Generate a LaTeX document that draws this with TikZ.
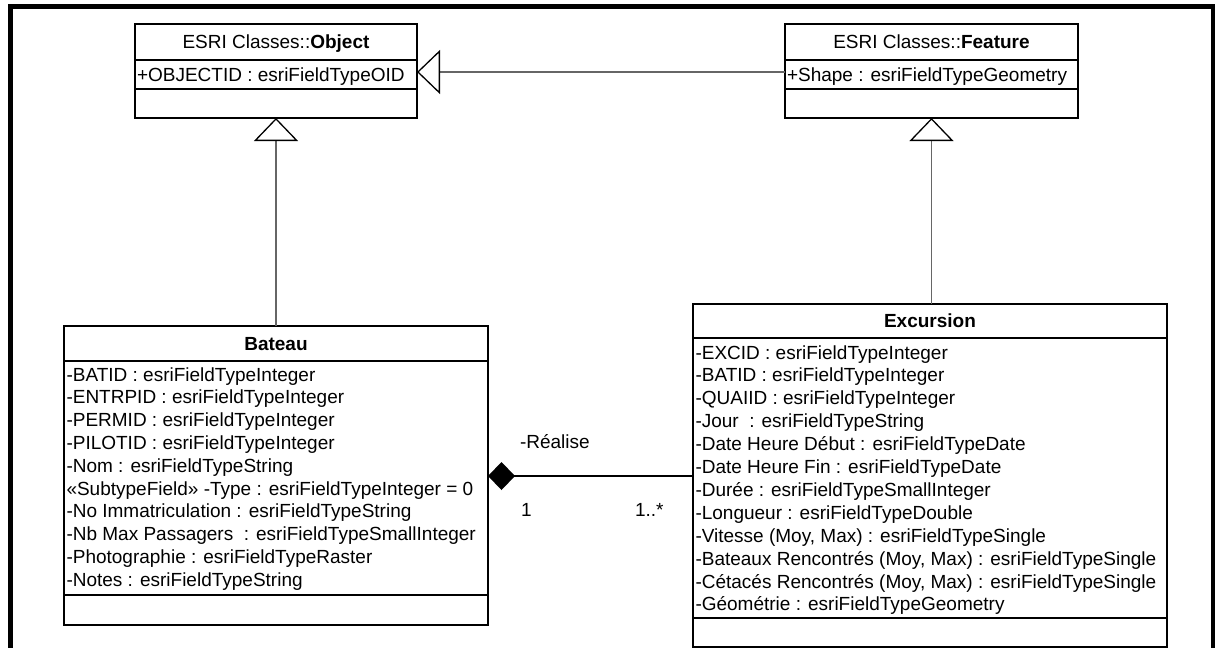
\documentclass[tikz,border=0pt]{standalone}
\usepackage{fontspec}
\setmainfont{Liberation Sans}
\usetikzlibrary{arrows.meta,calc}
\definecolor{linegray}{HTML}{666666}
\newcommand\umlfont{\fontsize{19}{22.8}\selectfont}
\begin{document}
\begin{tikzpicture}[x=1pt,y=-1pt,
  box/.style={draw=black, line width=1.3pt, rectangle, inner sep=0pt, outer sep=0pt, anchor=north west},
  classtitle/.style={box, font=\umlfont, text height=13.6pt, text depth=0pt},
  attr/.style={anchor=base west, inner sep=0pt, outer sep=0pt, font=\umlfont},
  inherit/.style={draw=linegray, line width=1.3pt,
    -{Triangle[length=23pt,width=44pt,fill=white,color=black,line width=1.3pt]}},
  compose/.style={draw=black, line width=2pt,
    -{Diamond[length=27pt,width=28pt,fill=black,color=black]}},
  frameline/.style={draw=black, line width=4.6pt, line join=miter}]

\useasboundingbox (0,0) rectangle (1216,648);
\clip (0,0) rectangle (1216,648);
\fill[white] (0,0) rectangle (1216,648);

% outer frame (open at the bottom)
\draw[frameline] (10.2,670) -- (10.2,6.5) -- (1212.9,6.5) -- (1212.9,670);

% ---- ESRI Classes::Object
\node[classtitle, minimum width=282pt, minimum height=36pt] (obj-title) at (135,24) {ESRI Classes::\textbf{Object}};
\node[box, minimum width=282pt, minimum height=29pt] (obj-attr) at (obj-title.south west) {};
\node[box, minimum width=282pt, minimum height=29pt] (obj-ops) at (obj-attr.south west) {};
\node[attr] (obj-a1) at ($(obj-attr.north west)+(2,21)$) {+OBJECTID : esriFieldTypeOID};

% ---- ESRI Classes::Feature
\node[classtitle, minimum width=293pt, minimum height=36pt] (feat-title) at (785,24) {ESRI Classes::\textbf{Feature}};
\node[box, minimum width=293pt, minimum height=29pt] (feat-attr) at (feat-title.south west) {};
\node[box, minimum width=293pt, minimum height=29pt] (feat-ops) at (feat-attr.south west) {};
\node[attr] (feat-a1) at ($(feat-attr.north west)+(2,21)$) {+Shape : esriFieldTypeGeometry};

% ---- Bateau
\node[classtitle, minimum width=424pt, minimum height=35pt] (bat-title) at (64,326) {\textbf{Bateau}};
\node[box, minimum width=424pt, minimum height=234pt] (bat-attr) at (bat-title.south west) {};
\node[box, minimum width=424pt, minimum height=30pt] (bat-ops) at (bat-attr.south west) {};
\foreach [count=\i] \t in {
  {-BATID : esriFieldTypeInteger},
  {-ENTRPID : esriFieldTypeInteger},
  {-PERMID : esriFieldTypeInteger},
  {-PILOTID : esriFieldTypeInteger},
  {-Nom : esriFieldTypeString},
  {«SubtypeField» -Type : esriFieldTypeInteger = 0},
  {-No Immatriculation : esriFieldTypeString},
  {-Nb Max Passagers\ \ : esriFieldTypeSmallInteger},
  {-Photographie : esriFieldTypeRaster},
  {-Notes : esriFieldTypeString}}
  \node[attr] (bat-a\i) at ($(bat-attr.north west)+(2.5,{20+(\i-1)*22.8})$) {\t};

% ---- Excursion
\node[classtitle, minimum width=474pt, minimum height=34pt] (exc-title) at (693,304) {\textbf{Excursion}};
\node[box, minimum width=474pt, minimum height=280pt] (exc-attr) at (exc-title.south west) {};
\node[box, minimum width=474pt, minimum height=29pt] (exc-ops) at (exc-attr.south west) {};
\foreach [count=\i] \t in {
  {-EXCID : esriFieldTypeInteger},
  {-BATID : esriFieldTypeInteger},
  {-QUAIID : esriFieldTypeInteger},
  {-Jour\ \ : esriFieldTypeString},
  {-Date Heure Début : esriFieldTypeDate},
  {-Date Heure Fin : esriFieldTypeDate},
  {-Durée : esriFieldTypeSmallInteger},
  {-Longueur : esriFieldTypeDouble},
  {-Vitesse (Moy, Max) : esriFieldTypeSingle},
  {-Bateaux Rencontrés (Moy, Max) : esriFieldTypeSingle},
  {-Cétacés Rencontrés (Moy, Max) : esriFieldTypeSingle},
  {-Géométrie : esriFieldTypeGeometry}}
  \node[attr] (exc-a\i) at ($(exc-attr.north west)+(2.5,{21+(\i-1)*22.9})$) {\t};

% ---- generalizations
\draw[inherit] ([yshift=2.5pt]feat-attr.west) -- ([yshift=2.5pt]obj-attr.east);
\draw[inherit] (bat-title.north) -- (obj-ops.south);
\draw[inherit] (exc-title.north -| feat-ops.south) -- (feat-ops.south);

% ---- composition Bateau <>-- Excursion
\draw[compose] ([yshift=2pt]exc-attr.west) -- ([yshift=2pt]bat-attr.east);
\node[attr] (role) at (520,448) {-Réalise};
\node[attr] (mult-bat) at (521,516) {1};
\node[attr] (mult-exc) at (635,516) {1..*};

\end{tikzpicture}
\end{document}
